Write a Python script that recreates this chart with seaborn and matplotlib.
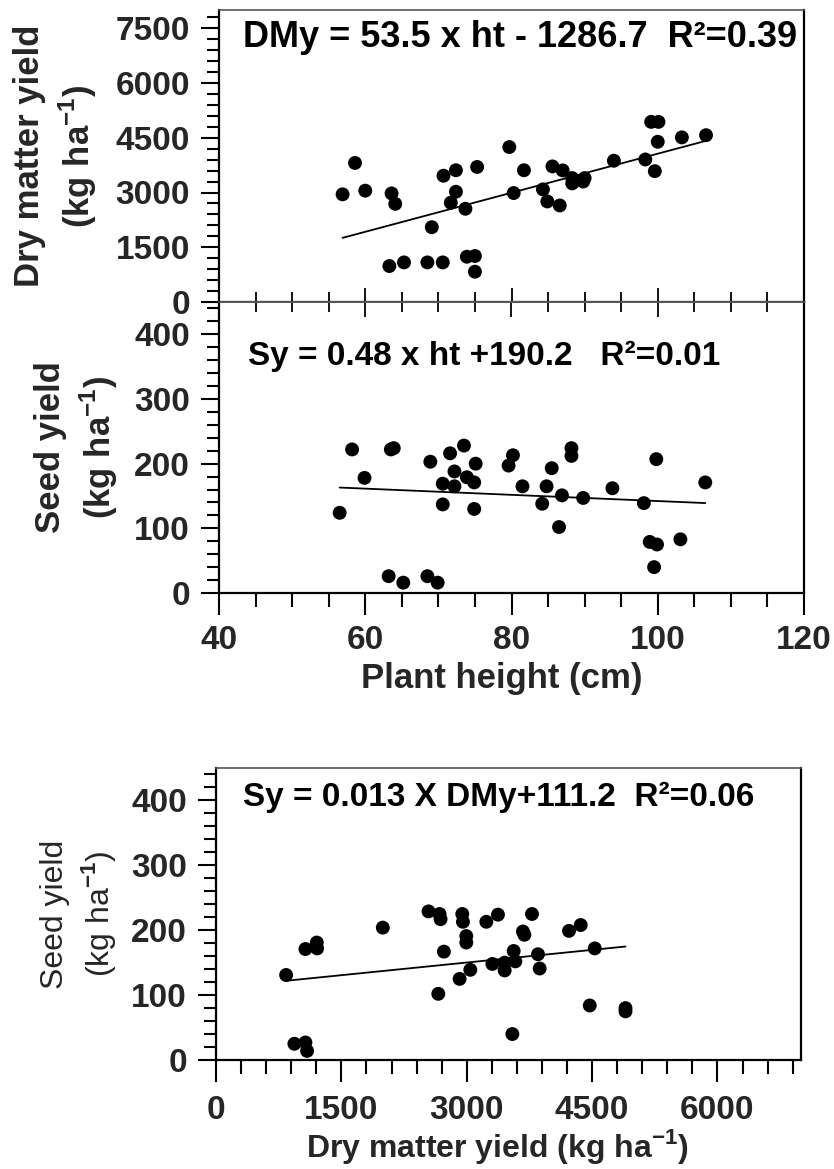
import numpy as np
import pandas as pd
import matplotlib
matplotlib.use("Agg")
import matplotlib.pyplot as plt
import seaborn as sns
from matplotlib.ticker import MultipleLocator

# ---------------- data ----------------
# Panel A: plant height vs dry matter yield
ht_a = [56.9, 58.6, 60.0, 63.6, 64.1, 63.3, 65.3, 69.1, 68.5, 70.6, 70.7, 72.4,
        72.4, 71.7, 73.7, 75.3, 73.9, 75.0, 75.0, 79.7, 80.3, 81.7, 85.6, 87.0,
        84.3, 84.9, 86.6, 88.3, 88.3, 90.0, 89.8, 94.0, 98.3, 99.6, 99.1, 100.1,
        100.0, 103.3, 106.6]
dmy_a = [2950, 3810, 3050, 2975, 2690, 985, 1085, 2050, 1085, 1085, 3460, 3610,
         3020, 2720, 2555, 3700, 1240, 1260, 830, 4245, 2985, 3610, 3715, 3605,
         3085, 2755, 2645, 3395, 3250, 3395, 3300, 3870, 3905, 3585, 4935, 4935,
         4390, 4510, 4570]

# Panel B: plant height vs seed yield
ht_b = [56.5, 58.2, 59.9, 63.2, 63.5, 63.9, 65.2, 68.5, 69.9, 68.9, 70.6, 70.6,
        71.6, 72.2, 72.2, 73.5, 73.9, 74.9, 75.1, 74.9, 79.6, 80.2, 81.5, 84.2,
        84.8, 85.5, 86.5, 86.9, 88.2, 88.2, 89.8, 93.8, 98.1, 98.9, 99.9, 99.8,
        99.5, 103.1, 106.5]
sy_b = [124, 222, 178, 26, 222, 224, 16, 26, 16, 203, 169, 137,
        216, 188, 165, 228, 179, 171, 200, 130, 197, 213, 165, 138,
        165, 193, 102, 151, 224, 212, 147, 162, 139, 79, 75, 207,
        40, 83, 171]

# Panel C: dry matter yield vs seed yield
dmy_c = [839, 938, 1070, 1090, 1070, 1206, 1210, 1996, 2543, 2675, 2687, 2727,
         2660, 2947, 2955, 2995, 2995, 2915, 3043, 3235, 3374, 3307, 3454, 3454,
         3562, 3582, 3546, 3673, 3690, 3781, 3853, 3873, 4224, 4364, 4532, 4472,
         4900, 4900]
sy_c = [131, 25, 27, 14, 171, 181, 172, 204, 229, 225, 217, 167,
        102, 225, 213, 191, 181, 125, 139, 213, 224, 148, 150, 138,
        168, 152, 40, 198, 193, 225, 163, 141, 199, 208, 172, 84,
        80, 75]

# fitted lines (slope, intercept) as drawn in the reference
fit_a = (53.5, -1286.7)
fit_b = (-0.48, 190.2)
fit_c = (0.013, 111.2)

eq_a = "DMy = 53.5 x ht - 1286.7  R\u00b2=0.39"
eq_b = "Sy = 0.48 x ht +190.2   R\u00b2=0.01"
eq_c = "Sy = 0.013 X DMy+111.2  R\u00b2=0.06"

ht_ticks = [40, 60, 80, 100, 120]
dmy_ticks = [0, 1500, 3000, 4500, 6000, 7500]
sy_ticks = [0, 100, 200, 300, 400]
dmx_ticks = [0, 1500, 3000, 4500, 6000]

# ---------------- style ----------------
sns.set_theme(style="ticks")
plt.rcParams["font.family"] = ["Liberation Sans", "DejaVu Sans"]
plt.rcParams["font.weight"] = "bold"
plt.rcParams["mathtext.fontset"] = "custom"
plt.rcParams["mathtext.rm"] = "Liberation Sans"
plt.rcParams["mathtext.bf"] = "Liberation Sans:bold"

W, H = 834, 1169
fig = plt.figure(figsize=(W / 100, H / 100), dpi=100)
fig.patch.set_facecolor("white")


def axes_px(left, top, right, bottom):
    return fig.add_axes([left / W, 1 - bottom / H, (right - left) / W, (bottom - top) / H])


ax_a = axes_px(219, 10, 804, 302)
ax_b = axes_px(219, 302, 804, 593)
ax_c = axes_px(216, 768, 801, 1060)


def draw(ax, x, y, fit):
    df = pd.DataFrame({"x": x, "y": y})
    sns.scatterplot(data=df, x="x", y="y", ax=ax, color="black", s=100,
                    edgecolor="none", linewidth=0, zorder=3)
    xs = np.array([df["x"].min(), df["x"].max()])
    line = pd.DataFrame({"x": xs, "y": fit[0] * xs + fit[1]})
    sns.lineplot(data=line, x="x", y="y", ax=ax, color="black", lw=1.3, zorder=2)
    ax.set_xlabel("")
    ax.set_ylabel("")


def style(ax):
    ax.set_facecolor("white")
    for s in ["left", "right", "bottom"]:
        ax.spines[s].set_color("black")
        ax.spines[s].set_linewidth(1.6)
    ax.spines["top"].set_color("#555555")
    ax.spines["top"].set_linewidth(1.2)
    ax.tick_params(axis="y", which="major", direction="out", length=13, width=1.5,
                   labelsize=24, pad=8, color="black", left=True, right=False)
    ax.tick_params(axis="y", which="minor", direction="out", length=9, width=1.5,
                   color="black", left=True, right=False)
    for lab in ax.get_yticklabels():
        lab.set_fontweight("bold")


draw(ax_a, ht_a, dmy_a, fit_a)
draw(ax_b, ht_b, sy_b, fit_b)
draw(ax_c, dmy_c, sy_c, fit_c)

# Panel A
ax_a.set_xlim(40, 120)
ax_a.set_ylim(0, 8000)
ax_a.set_xticks(ht_ticks)
ax_a.xaxis.set_minor_locator(MultipleLocator(5))
ax_a.set_yticks(dmy_ticks)
ax_a.yaxis.set_minor_locator(MultipleLocator(300))
style(ax_a)
ax_a.tick_params(axis="x", which="both", direction="in", labelbottom=False,
                 bottom=True, top=False, width=1.3, color="black")
ax_a.tick_params(axis="x", which="major", length=10)
ax_a.tick_params(axis="x", which="minor", length=7)

# Panel B
ax_b.set_xlim(40, 120)
ax_b.set_ylim(0, 450)
ax_b.set_xticks(ht_ticks)
ax_b.xaxis.set_minor_locator(MultipleLocator(5))
ax_b.set_yticks(sy_ticks)
ax_b.yaxis.set_minor_locator(MultipleLocator(20))
style(ax_b)
ax_b.tick_params(axis="x", which="major", direction="out", length=16, width=1.5,
                 labelsize=24, pad=7, bottom=True, top=False, color="black")
ax_b.tick_params(axis="x", which="minor", direction="out", length=10, width=1.5,
                 bottom=True, top=False, color="black")
for lab in ax_b.get_xticklabels():
    lab.set_fontweight("bold")
sec = ax_b.secondary_xaxis("top")
sec.set_xticks(ht_ticks)
sec.xaxis.set_minor_locator(MultipleLocator(5))
sec.tick_params(axis="x", which="major", direction="in", length=11, width=1.3,
                labeltop=False, color="black")
sec.tick_params(axis="x", which="minor", direction="in", length=7, width=1.3,
                color="black")
sec.spines["top"].set_color("#555555")
sec.spines["top"].set_linewidth(1.2)

# Panel C
ax_c.set_xlim(0, 7000)
ax_c.set_ylim(0, 450)
ax_c.set_xticks(dmx_ticks)
ax_c.xaxis.set_minor_locator(MultipleLocator(300))
ax_c.set_yticks(sy_ticks)
ax_c.yaxis.set_minor_locator(MultipleLocator(20))
style(ax_c)
ax_c.tick_params(axis="x", which="major", direction="out", length=16, width=1.5,
                 labelsize=24, pad=9, bottom=True, top=False, color="black")
ax_c.tick_params(axis="x", which="minor", direction="out", length=10, width=1.5,
                 bottom=True, top=False, color="black")
for lab in ax_c.get_xticklabels():
    lab.set_fontweight("bold")

# equations
ax_a.text(0.041, (302 - 47) / 292, eq_a, transform=ax_a.transAxes, ha="left",
          va="baseline", fontsize=26, fontweight="bold", color="black")
ax_b.text((248 - 219) / 585, (593 - 365) / 291, eq_b, transform=ax_b.transAxes,
          ha="left", va="baseline", fontsize=24, fontweight="bold", color="black")
ax_c.text((243 - 216) / 585, (1060 - 806) / 292, eq_c, transform=ax_c.transAxes,
          ha="left", va="baseline", fontsize=24, fontweight="bold", color="black")

# axis labels
def ylab(ax, text, x, weight, size):
    ax.set_ylabel(text, fontsize=size, fontweight=weight, linespacing=1.3)
    lab = ax.yaxis.label
    lab.set_rotation_mode("default")
    lab.set_horizontalalignment("center")
    lab.set_verticalalignment("center")
    ax.yaxis.set_label_coords(x, 0.5)


ylab(ax_a, "Dry matter yield\n(kg ha$^{\\mathbf{-1}}$)", (56 - 219) / 585, "bold", 25)
ylab(ax_b, "Seed yield\n(kg ha$^{\\mathbf{-1}}$)", (77 - 219) / 585, "bold", 25)
ylab(ax_c, "Seed yield\n(kg ha$^{\\mathrm{-1}}$)", (79 - 216) / 585, "normal", 23)

ax_b.set_xlabel("Plant height (cm)", fontsize=25, fontweight="bold")
ax_b.xaxis.set_label_coords((502 - 219) / 585, (593 - 662) / 291)
ax_c.set_xlabel("Dry matter yield (kg ha$^{\\mathbf{-1}}$)", fontsize=23, fontweight="bold")
ax_c.xaxis.set_label_coords((497 - 216) / 585, (1060 - 1127) / 292)

fig.savefig("out.png", dpi=100, facecolor="white")
